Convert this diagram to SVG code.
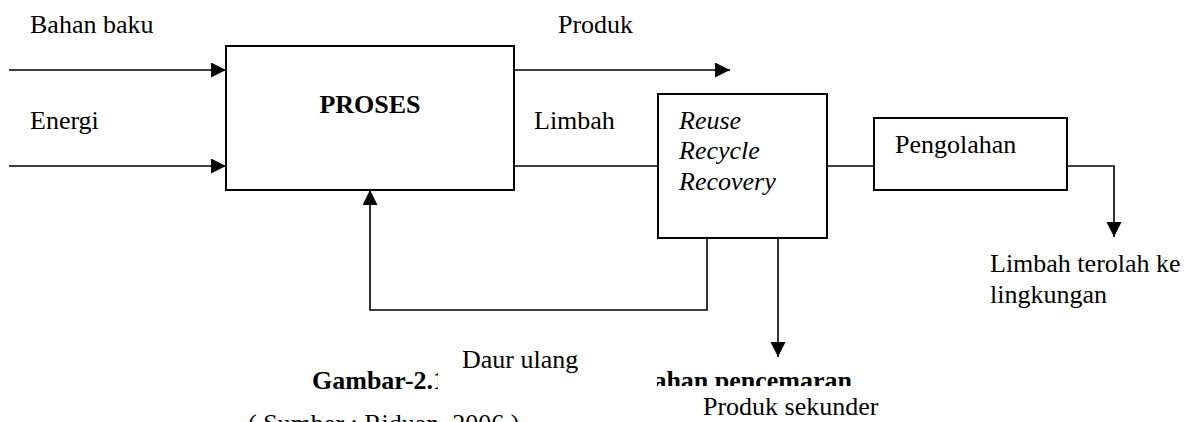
<svg xmlns="http://www.w3.org/2000/svg" width="1204" height="422" viewBox="0 0 1204 422">
<style>
text{font-family:"Liberation Serif","Times New Roman",serif;font-size:26px;fill:#000}
.b{font-weight:bold}
.i{font-style:italic}
.box{fill:#fff;stroke:#000;stroke-width:2}
.ln{fill:none;stroke:#000;stroke-width:1.6}
</style>
<defs>
<marker id="ah" markerUnits="userSpaceOnUse" markerWidth="16" markerHeight="16" refX="15" refY="7.5" orient="auto">
<path d="M0,0 L15,7.5 L0,15 Z" fill="#000"/>
</marker>
<clipPath id="cl1"><rect x="0" y="340" width="438" height="82"/></clipPath>
<clipPath id="cl2"><rect x="657" y="340" width="400" height="46"/></clipPath>
</defs>
<rect width="1204" height="422" fill="#fff"/>
<g id="connectors">
<line class="ln" x1="9" y1="70" x2="226" y2="70" marker-end="url(#ah)"/>
<line class="ln" x1="9" y1="166" x2="226" y2="166" marker-end="url(#ah)"/>
<line class="ln" x1="514" y1="70" x2="730" y2="70" marker-end="url(#ah)"/>
<line class="ln" x1="514" y1="166" x2="658" y2="166"/>
<line class="ln" x1="827" y1="166" x2="874" y2="166"/>
<path class="ln" d="M1067,166 H1114 V237" marker-end="url(#ah)"/>
<path class="ln" d="M707,238 V310 H370 V190" marker-end="url(#ah)"/>
<line class="ln" x1="778" y1="238" x2="778" y2="357" marker-end="url(#ah)"/>
</g>
<g id="proses">
<rect class="box" x="226" y="46" width="288" height="144"/>
<text class="b" x="370" y="113" text-anchor="middle">PROSES</text>
</g>
<g id="reuse">
<rect class="box" x="658" y="94" width="169" height="144"/>
<text class="i" x="679" y="129">Reuse</text>
<text class="i" x="679" y="159">Recycle</text>
<text class="i" x="679" y="190">Recovery</text>
</g>
<g id="pengolahan">
<rect class="box" x="874" y="118" width="193" height="72"/>
<text x="895" y="153">Pengolahan</text>
</g>
<g id="labels">
<text x="30" y="33">Bahan baku</text>
<text x="558" y="33">Produk</text>
<text x="30" y="129">Energi</text>
<text x="534" y="129">Limbah</text>
<text x="990" y="272">Limbah terolah ke</text>
<text x="990" y="303">lingkungan</text>
<text x="462" y="368">Daur ulang</text>
<text x="703" y="415">Produk sekunder</text>
</g>
<g id="caption">
<text class="b" x="312" y="389" clip-path="url(#cl1)">Gambar-2.1</text>
<text class="b" x="852" y="389" text-anchor="end" clip-path="url(#cl2)">bahan pencemaran</text>
<text x="248" y="432">( Sumber : Riduan, 2006 )</text>
</g>
</svg>
